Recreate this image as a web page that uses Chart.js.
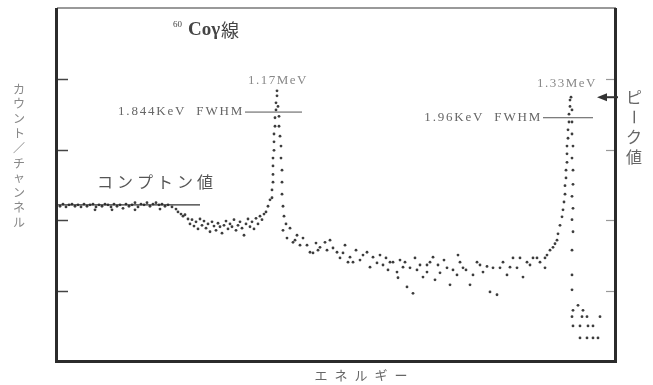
<!DOCTYPE html>
<html lang="ja">
<head>
<meta charset="UTF-8">
<title>60Co γ線スペクトル</title>
<script src="https://cdn.jsdelivr.net/npm/chart.js"></script>
<style>
    html, body { margin: 0; padding: 0; background: #fff; }
    #spectrum { display: block; }
</style>
</head>
<body>
<canvas id="spectrum" width="653" height="385"></canvas>
<script>
// 読み取り値: チャンネル番号とカウント（任意単位）
const plateauCh = [3,6,9,12,15,18,21,24,27,30,33,36,39,42,45,48,51,54,57,60,63,66,69,72,75,78,81,84,87,90,93,96,99,102,105,108,111,115,119,38,55,78,103];
const plateauCnt = [220,223,219,222,223,220,222,219,223,220,222,223,219,222,220,223,222,219,223,220,222,217,223,220,222,225,219,223,222,225,220,223,225,222,223,220,222,219,216,215,215,215,216];

const shoulderCh = [121,124,126,128,131,133,135,137,139,141,143,145,147,149,151,153,155,157,159,161,163,165,167,169,171,173,175,177,179,181,183,185,187,189,191,193,195,197,199,201,203,205,207,209,211,213];
const shoulderCnt = [212,209,206,208,202,195,201,192,198,188,202,193,199,189,195,184,198,192,186,196,191,182,193,199,188,195,191,201,186,193,198,189,179,195,202,191,198,188,203,195,206,201,209,212,220,229];

const peak1Ch = [215,215,216,216,216,216,217,217,217,218,218,219,219,220,220,221,222,222,223,224,224,225,225,225,226,227,229];
const peak1Cnt = [232,243,254,265,277,288,299,311,322,333,345,356,366,376,383,361,347,333,319,305,288,271,254,237,220,206,195];

const valleyCh = [226,230,233,236,240,243,250,253,256,263,268,273,276,280,283,286,293,296,303,310,313,316,320,326,331,336,340,341,346,350,353,356,360,363,366,370,370,376,378,383,390,393,400,401,406,413,416,423,426,433,436,440,443,450,453,460,463,466,473,476,488,488,490,493,496,498,500,501,
                  238,246,259,261,270,288,291,299,306,323,329,333,343,348,358,373,381,387,396,403,409,420,430,446,456,470,480,483];
const valleyCnt = [186,175,189,169,179,165,165,155,154,162,169,172,161,155,147,154,148,141,144,155,134,148,140,137,130,141,127,119,134,106,133,97,130,137,120,127,137,148,116,126,133,109,123,151,133,109,123,137,127,99,133,95,133,123,134,133,147,120,137,147,133,147,151,158,162,167,172,181,
                   172,175,168,158,158,165,141,158,151,151,147,141,144,141,147,141,137,144,130,141,130,141,135,141,147,141,147,141];

const peak2Ch = [503,505,506,507,508,508,509,509,510,510,510,511,511,512,512,513,513,514,515,515,515,516,515,516,516,515,516,515,516,515,515,515];
const peak2Cnt = [193,205,215,226,237,249,260,271,282,294,305,316,328,339,350,361,370,374,356,339,322,305,288,271,251,234,217,201,184,158,123,102];

const tailCh = [521,516,526,515,525,530,543,516,523,531,536,523,530,536,541];
const tailCnt = [80,73,73,64,64,64,64,51,51,51,51,34,34,34,34];

// 目盛りと補助線
const yTickValues = [100, 200, 300, 400];
const comptonLineCh = [1, 143];
const comptonLevel = 222;
const fwhm1Ch = [188, 245];
const fwhm1Level = 353;
const fwhm2Ch = [486, 536];
const fwhm2Level = 345;

const peakLabels = ['1.17MeV', '1.33MeV'];
const fwhmLabels = ['1.844KeV  FWHM', '1.96KeV  FWHM'];

function toPoints(xs, ys) {
    return xs.map((v, i) => ({ x: v, y: ys[i] }));
}

const allPoints = [].concat(
    toPoints(plateauCh, plateauCnt),
    toPoints(shoulderCh, shoulderCnt),
    toPoints(peak1Ch, peak1Cnt),
    toPoints(valleyCh, valleyCnt),
    toPoints(peak2Ch, peak2Cnt),
    toPoints(tailCh, tailCnt)
);

const JP = '"Noto Sans CJK JP", sans-serif';
const SERIF = '"Liberation Serif", "DejaVu Serif", serif';

function vText(ctx, str, cx, top, step) {
    [...str].forEach((ch, i) => {
        const cy = top + step * i;
        if (ch === 'ー') {
            ctx.save();
            ctx.translate(cx, cy);
            ctx.rotate(Math.PI / 2);
            ctx.fillText(ch, 0, 0);
            ctx.restore();
        } else {
            ctx.fillText(ch, cx, cy);
        }
    });
}

// 枠・内向き目盛り・注記
const decor = {
    id: 'decor',
    beforeDatasetsDraw(chart) {
        const { ctx, chartArea: a, scales: { y } } = chart;
        ctx.save();
        ctx.lineCap = 'butt';
        // 上辺（細い）
        ctx.strokeStyle = '#777';
        ctx.lineWidth = 1.5;
        ctx.beginPath();
        ctx.moveTo(a.left, a.top);
        ctx.lineTo(a.right, a.top);
        ctx.stroke();
        // 左・下・右（太い）
        ctx.strokeStyle = '#2b2b2b';
        ctx.lineWidth = 3;
        ctx.beginPath();
        ctx.moveTo(a.left - 0.5, a.top);
        ctx.lineTo(a.left - 0.5, a.bottom - 0.5);
        ctx.lineTo(a.right - 0.5, a.bottom - 0.5);
        ctx.lineTo(a.right - 0.5, a.top);
        ctx.stroke();
        // 内向き目盛り
        yTickValues.forEach(v => {
            const py = Math.round(y.getPixelForValue(v)) + 0.5;
            ctx.strokeStyle = '#444';
            ctx.lineWidth = 1.5;
            ctx.beginPath();
            ctx.moveTo(a.left + 1, py);
            ctx.lineTo(a.left + 11, py);
            ctx.stroke();
            ctx.strokeStyle = '#999';
            ctx.lineWidth = 1.2;
            ctx.beginPath();
            ctx.moveTo(a.right - 10, py);
            ctx.lineTo(a.right - 2, py);
            ctx.stroke();
        });
        ctx.restore();
    },
    afterDatasetsDraw(chart) {
        const { ctx, chartArea: a, scales: { x, y } } = chart;
        ctx.save();
        ctx.textBaseline = 'middle';

        // タイトル
        ctx.fillStyle = '#444';
        ctx.textAlign = 'left';
        ctx.font = '9px ' + SERIF;
        ctx.fillText('60', a.left + 116, a.top + 17);
        ctx.font = 'bold 19px ' + SERIF;
        ctx.fillText('Coγ', a.left + 131, a.top + 22);
        const tw = ctx.measureText('Coγ').width;
        ctx.font = '18px ' + JP;
        ctx.fillText('線', a.left + 131 + tw + 1, a.top + 22);

        // ピーク値ラベル
        ctx.fillStyle = '#888';
        ctx.font = '13px ' + SERIF;
        ctx.letterSpacing = '1.5px';
        ctx.textAlign = 'center';
        ctx.fillText(peakLabels[0], x.getPixelForValue(221), y.getPixelForValue(398));
        ctx.fillText(peakLabels[1], x.getPixelForValue(510), y.getPixelForValue(393));

        // FWHM ラベル
        ctx.fillStyle = '#666';
        ctx.letterSpacing = '1.8px';
        ctx.textAlign = 'right';
        ctx.fillText(fwhmLabels[0], x.getPixelForValue(fwhm1Ch[0]) - 1, y.getPixelForValue(fwhm1Level));
        ctx.fillText(fwhmLabels[1], x.getPixelForValue(fwhm2Ch[0]) - 1, y.getPixelForValue(fwhm2Level));
        ctx.letterSpacing = '0px';

        // コンプトン値
        ctx.fillStyle = '#555';
        ctx.font = '16px ' + JP;
        ctx.textAlign = 'left';
        ctx.letterSpacing = '4px';
        ctx.fillText('コンプトン値', x.getPixelForValue(40), y.getPixelForValue(254));
        ctx.letterSpacing = '0px';

        // ピーク値の矢印
        const ay = y.getPixelForValue(374);
        ctx.strokeStyle = '#333';
        ctx.fillStyle = '#333';
        ctx.lineWidth = 2;
        ctx.beginPath();
        ctx.moveTo(a.right + 2, ay);
        ctx.lineTo(a.right - 12, ay);
        ctx.stroke();
        ctx.beginPath();
        ctx.moveTo(a.right - 19, ay);
        ctx.lineTo(a.right - 9, ay - 4);
        ctx.lineTo(a.right - 9, ay + 4);
        ctx.closePath();
        ctx.fill();

        // ピーク値（縦書き）
        ctx.fillStyle = '#666';
        ctx.font = '16px ' + JP;
        ctx.textAlign = 'center';
        vText(ctx, 'ピーク値', a.right + 18, a.top + 89, 20);

        // 軸タイトル
        ctx.fillStyle = '#888';
        ctx.font = '12px ' + JP;
        vText(ctx, 'カウント／チャンネル', 19, 89, 14.8);
        ctx.fillStyle = '#666';
        ctx.font = '13px ' + JP;
        ctx.letterSpacing = '7px';
        ctx.fillText('エネルギー', (a.left + a.right) / 2 + 28, a.bottom + 13);
        ctx.restore();
    }
};

const ctx = document.getElementById('spectrum').getContext('2d');
new Chart(ctx, {
    type: 'scatter',
    data: {
        datasets: [
            {
                label: 'カウント',
                data: allPoints,
                pointRadius: 1.4,
                pointBorderWidth: 0,
                pointBackgroundColor: 'rgba(40,40,40,0.9)',
                showLine: false
            },
            {
                type: 'line',
                data: toPoints(comptonLineCh, comptonLineCh.map(() => comptonLevel)),
                borderColor: '#333',
                borderWidth: 1.3,
                pointRadius: 0
            },
            {
                type: 'line',
                data: toPoints(fwhm1Ch, fwhm1Ch.map(() => fwhm1Level)),
                borderColor: '#555',
                borderWidth: 1,
                pointRadius: 0
            },
            {
                type: 'line',
                data: toPoints(fwhm2Ch, fwhm2Ch.map(() => fwhm2Level)),
                borderColor: '#555',
                borderWidth: 1,
                pointRadius: 0
            }
        ]
    },
    options: {
        responsive: false,
        animation: false,
        layout: { padding: { left: 57, right: 37, top: 8, bottom: 23 } },
        plugins: {
            legend: { display: false },
            tooltip: { enabled: false }
        },
        scales: {
            x: { type: 'linear', min: 0, max: 559, display: false },
            y: { type: 'linear', min: 0, max: 500, display: false }
        }
    },
    plugins: [decor]
});
</script>
</body>
</html>
